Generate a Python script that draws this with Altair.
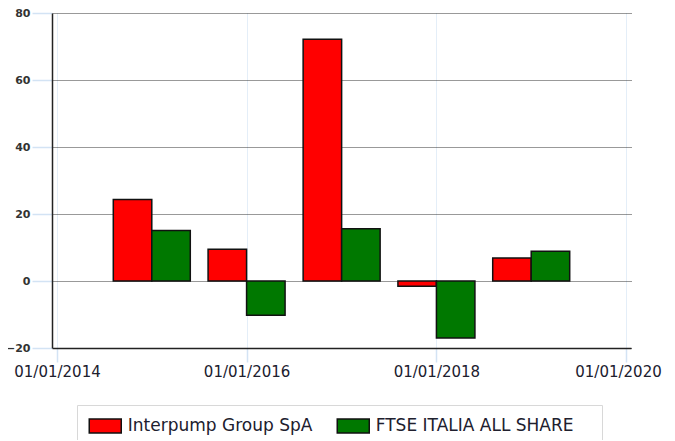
import altair as alt
import pandas as pd

dates = ["2015-01-01", "2016-01-01", "2017-01-01", "2018-01-01", "2019-01-01"]
interpump = [24.3, 9.5, 72.2, -1.6, 6.9]
ftse = [15.1, -10.2, 15.6, -17.0, 8.9]
series_names = ["Interpump Group SpA", "FTSE ITALIA ALL SHARE"]
series_colors = ["#ff0000", "#007800"]
y_ticks = [-20, 0, 20, 40, 60, 80]
x_tick_years = [2014, 2016, 2018, 2020]

rows = []
for d, a, b in zip(dates, interpump, ftse):
    rows.append({"date": d, "series": series_names[0], "value": a})
    rows.append({"date": d, "series": series_names[1], "value": b})
df = pd.DataFrame(rows)

x_vals = [alt.DateTime(year=y, month=1, date=1, utc=True) for y in x_tick_years]

x_enc = alt.X(
    "date:T",
    scale=alt.Scale(type="utc", domain=[x_vals[0], x_vals[-1]], nice=False),
    axis=alt.Axis(
        values=x_vals, format="%d/%m/%Y", title=None,
        labelFont="DejaVu Sans", labelFontSize=15, labelColor="#20202e",
        labelPadding=2, labelFlush=False, labelOverlap=False, labelBound=False,
        labelOffset={"condition": {"test": "time(datum.value) > 1570000000000", "value": -8}, "value": 0},
        tickSize=14, tickColor="#d3e3f4", tickWidth=1.5,
        domainColor="#222222", domainWidth=1.5,
        grid=True, gridColor="#c8dcf0", gridDash=[1, 1], gridWidth=1,
    ),
)
y_enc = alt.Y(
    "value:Q",
    scale=alt.Scale(domain=[y_ticks[0], y_ticks[-1]], nice=False),
    axis=alt.Axis(
        values=y_ticks, title=None,
        labelFont="DejaVu Sans", labelFontSize=11, labelFontWeight="bold",
        labelColor="#333333", labelPadding=2,
        tickSize=20, tickColor="#d3e3f4", tickWidth=1.5,
        domainColor="#222222", domainWidth=1.5,
        grid=True, gridColor="#333333", gridDash=[1, 1], gridWidth=1,
    ),
)
color_enc = alt.Color(
    "series:N",
    scale=alt.Scale(domain=series_names, range=series_colors),
    sort=series_names,
    legend=alt.Legend(
        title=" ", titleOrient="right", titlePadding=16, titleFontSize=11,
        orient="none", legendX=25, legendY=392,
        direction="horizontal",
        symbolType="M-2,-0.875H2V0.875H-2Z", symbolSize=256, symbolOffset=7.25,
        symbolStrokeColor="#111111", symbolStrokeWidth=1.5,
        labelFont="DejaVu Sans", labelFontSize=17, labelColor="#20202e",
        labelLimit=400,
        labelOffset=13.5, columnPadding=21, padding=12,
        strokeColor="#d8d8d8", fillColor="white",
    ),
)

base = alt.Chart(df)
red = base.transform_filter(alt.datum.series == series_names[0]).mark_bar(
    width=38.5, xOffset=-19.25, stroke="#111111", strokeWidth=1.5
).encode(x=x_enc, y=y_enc, color=color_enc)
green = base.transform_filter(alt.datum.series == series_names[1]).mark_bar(
    width=38.5, xOffset=19.25, stroke="#111111", strokeWidth=1.5
).encode(x=x_enc, y=y_enc, color=color_enc)

chart = alt.layer(red, green).properties(
    width=579, height=335,
    autosize=alt.AutoSizeParams(type="none"),
    padding={"left": 44, "top": 5, "right": 36, "bottom": 92},
).configure_view(stroke=None)

chart.save("out.html", embed_options={"renderer": "svg", "actions": False})
